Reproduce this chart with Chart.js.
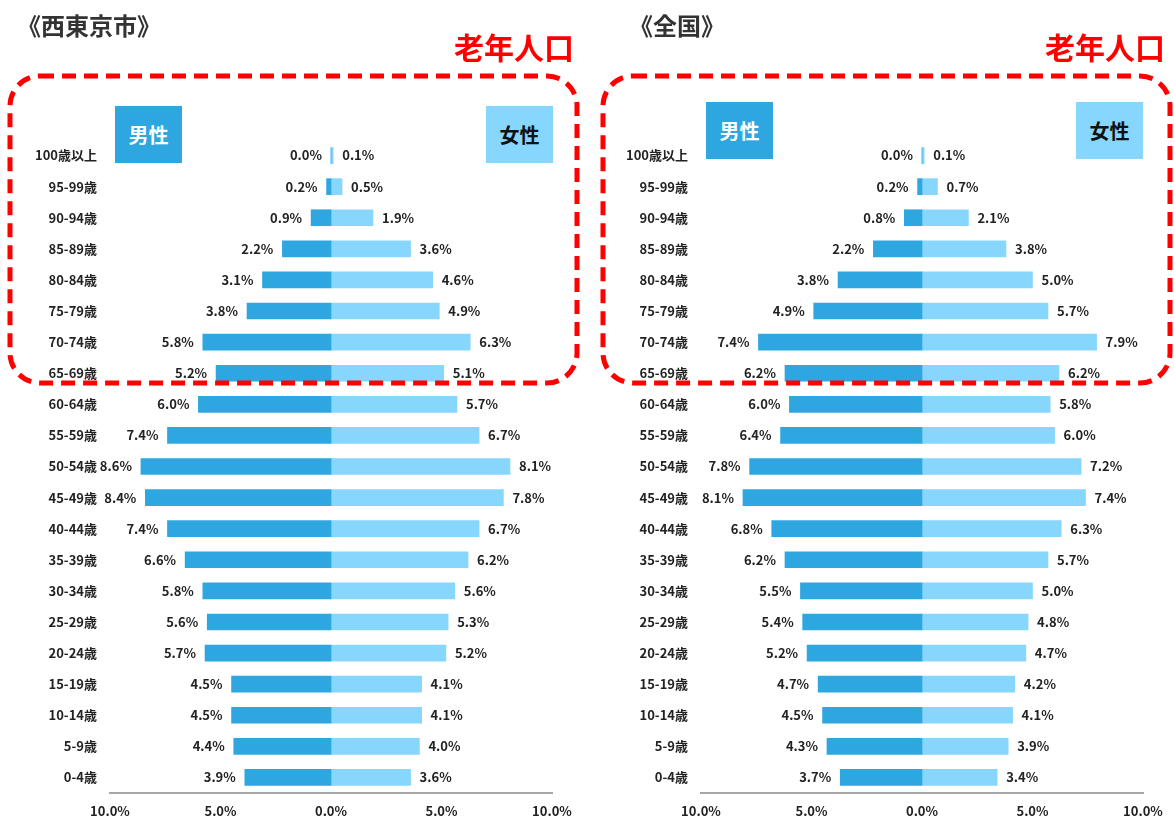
<!DOCTYPE html>
<html>
<head>
<meta charset="utf-8">
<script src="https://cdn.jsdelivr.net/npm/chart.js@4/dist/chart.umd.min.js"></script>
<style>
  body { margin: 0; background: #fff; font-family: "Noto Sans CJK JP", sans-serif; }
  #wrap { position: relative; width: 1174px; height: 818px; overflow: hidden; }
  .cv { position: absolute; top: 0; height: 818px; }
  .title { position: absolute; font-size: 24px; font-weight: bold; color: #333; line-height: 1; }
  .elder { position: absolute; font-size: 30px; font-weight: bold; color: #ff0000; line-height: 1; }
  .box { position: absolute; width: 67px; height: 57px; display: flex; align-items: center; justify-content: center;
         font-size: 20px; font-weight: bold; }
  .male { background: #2ea7e0; color: #fff; }
  .female { background: #87d6fe; color: #111; }
  svg { position: absolute; left: 0; top: 0; pointer-events: none; }
</style>
</head>
<body>
<div id="wrap">
  <div class="cv" style="left:0;width:587px"><canvas id="cityChart"></canvas></div>
  <div class="cv" style="left:591px;width:583px"><canvas id="nationChart"></canvas></div>

  <div class="title" style="left:17px;top:13px">《西東京市》</div>
  <div class="title" style="left:629px;top:13px">《全国》</div>
  <div class="elder" style="left:454px;top:31px">老年人口</div>
  <div class="elder" style="left:1045px;top:31px">老年人口</div>

  <div class="box male" style="left:115px;top:106px">男性</div>
  <div class="box female" style="left:486px;top:106px">女性</div>
  <div class="box male" style="left:706px;top:102px">男性</div>
  <div class="box female" style="left:1076px;top:102px">女性</div>

  <svg width="1174" height="818">
    <rect x="10" y="76" width="567" height="307" rx="30" ry="30" fill="none" stroke="#ff0000" stroke-width="5" stroke-dasharray="14 8"/>
    <rect x="603" y="76" width="567" height="307" rx="30" ry="30" fill="none" stroke="#ff0000" stroke-width="5" stroke-dasharray="14 8"/>
  </svg>
</div>
<script>
const ageGroups = ["100歳以上", "95-99歳", "90-94歳", "85-89歳", "80-84歳", "75-79歳", "70-74歳", "65-69歳",
  "60-64歳", "55-59歳", "50-54歳", "45-49歳", "40-44歳", "35-39歳", "30-34歳", "25-29歳", "20-24歳",
  "15-19歳", "10-14歳", "5-9歳", "0-4歳"];

// 西東京市
const cityMale   = [0.0, 0.2, 0.9, 2.2, 3.1, 3.8, 5.8, 5.2, 6.0, 7.4, 8.6, 8.4, 7.4, 6.6, 5.8, 5.6, 5.7, 4.5, 4.5, 4.4, 3.9];
const cityFemale = [0.1, 0.5, 1.9, 3.6, 4.6, 4.9, 6.3, 5.1, 5.7, 6.7, 8.1, 7.8, 6.7, 6.2, 5.6, 5.3, 5.2, 4.1, 4.1, 4.0, 3.6];

// 全国
const nationMale   = [0.0, 0.2, 0.8, 2.2, 3.8, 4.9, 7.4, 6.2, 6.0, 6.4, 7.8, 8.1, 6.8, 6.2, 5.5, 5.4, 5.2, 4.7, 4.5, 4.3, 3.7];
const nationFemale = [0.1, 0.7, 2.1, 3.8, 5.0, 5.7, 7.9, 6.2, 5.8, 6.0, 7.2, 7.4, 6.3, 5.7, 5.0, 4.8, 4.7, 4.2, 4.1, 3.9, 3.4];

const xTicks = [-10, -5, 0, 5, 10];

Chart.defaults.font.family = "'Noto Sans CJK JP', sans-serif";
Chart.defaults.font.weight = "bold";
Chart.defaults.color = "#222";

const MALE_COLOR = "#2ea7e0";
const FEMALE_COLOR = "#87d6fe";

// percent labels next to each bar end
const valueLabels = {
  id: "valueLabels",
  afterDatasetsDraw(chart) {
    const ctx = chart.ctx;
    ctx.save();
    ctx.font = "bold 13px 'Noto Sans CJK JP', sans-serif";
    ctx.fillStyle = "#222";
    ctx.textBaseline = "middle";
    chart.data.datasets.forEach((ds, i) => {
      const meta = chart.getDatasetMeta(i);
      meta.data.forEach((bar, j) => {
        const txt = Math.abs(ds.data[j]).toFixed(1) + "%";
        if (i === 0) {
          ctx.textAlign = "right";
          ctx.fillText(txt, Math.min(bar.x, bar.base) - 9, bar.y);
        } else {
          ctx.textAlign = "left";
          ctx.fillText(txt, Math.max(bar.x, bar.base) + 9, bar.y);
        }
      });
    });
    ctx.restore();
  }
};

function makePyramid(id, male, female, rightPad) {
  return new Chart(document.getElementById(id), {
    type: "bar",
    data: {
      labels: ageGroups,
      datasets: [
        { label: "男性", data: male.map(v => -v), backgroundColor: MALE_COLOR, barThickness: 16 },
        { label: "女性", data: female, backgroundColor: FEMALE_COLOR, barThickness: 16 }
      ]
    },
    options: {
      indexAxis: "y",
      responsive: true,
      maintainAspectRatio: false,
      animation: false,
      layout: { padding: { top: 140, right: rightPad, left: 0, bottom: 0 } },
      plugins: { legend: false, tooltip: { enabled: false } },
      scales: {
        x: {
          stacked: true,
          min: -10, max: 10,
          afterBuildTicks: (axis) => { axis.ticks = xTicks.map(v => ({ value: v })); },
          afterFit: (axis) => { axis.height = 25; },
          grid: { display: false, drawTicks: false },
          border: { display: true, color: "#a6a6a6", width: 2 },
          ticks: {
            padding: 10,
            font: { size: 13, weight: "bold" },
            callback: (v) => Math.abs(v).toFixed(1) + "%"
          }
        },
        y: {
          stacked: true,
          afterFit: (axis) => { axis.width = 110; },
          grid: { display: false, drawTicks: false },
          border: { display: false },
          ticks: { padding: 13, font: { size: 13, weight: "bold" } }
        }
      }
    },
    plugins: [valueLabels]
  });
}

makePyramid("cityChart", cityMale, cityFemale, 35);
makePyramid("nationChart", nationMale, nationFemale, 31);
</script>
</body>
</html>
